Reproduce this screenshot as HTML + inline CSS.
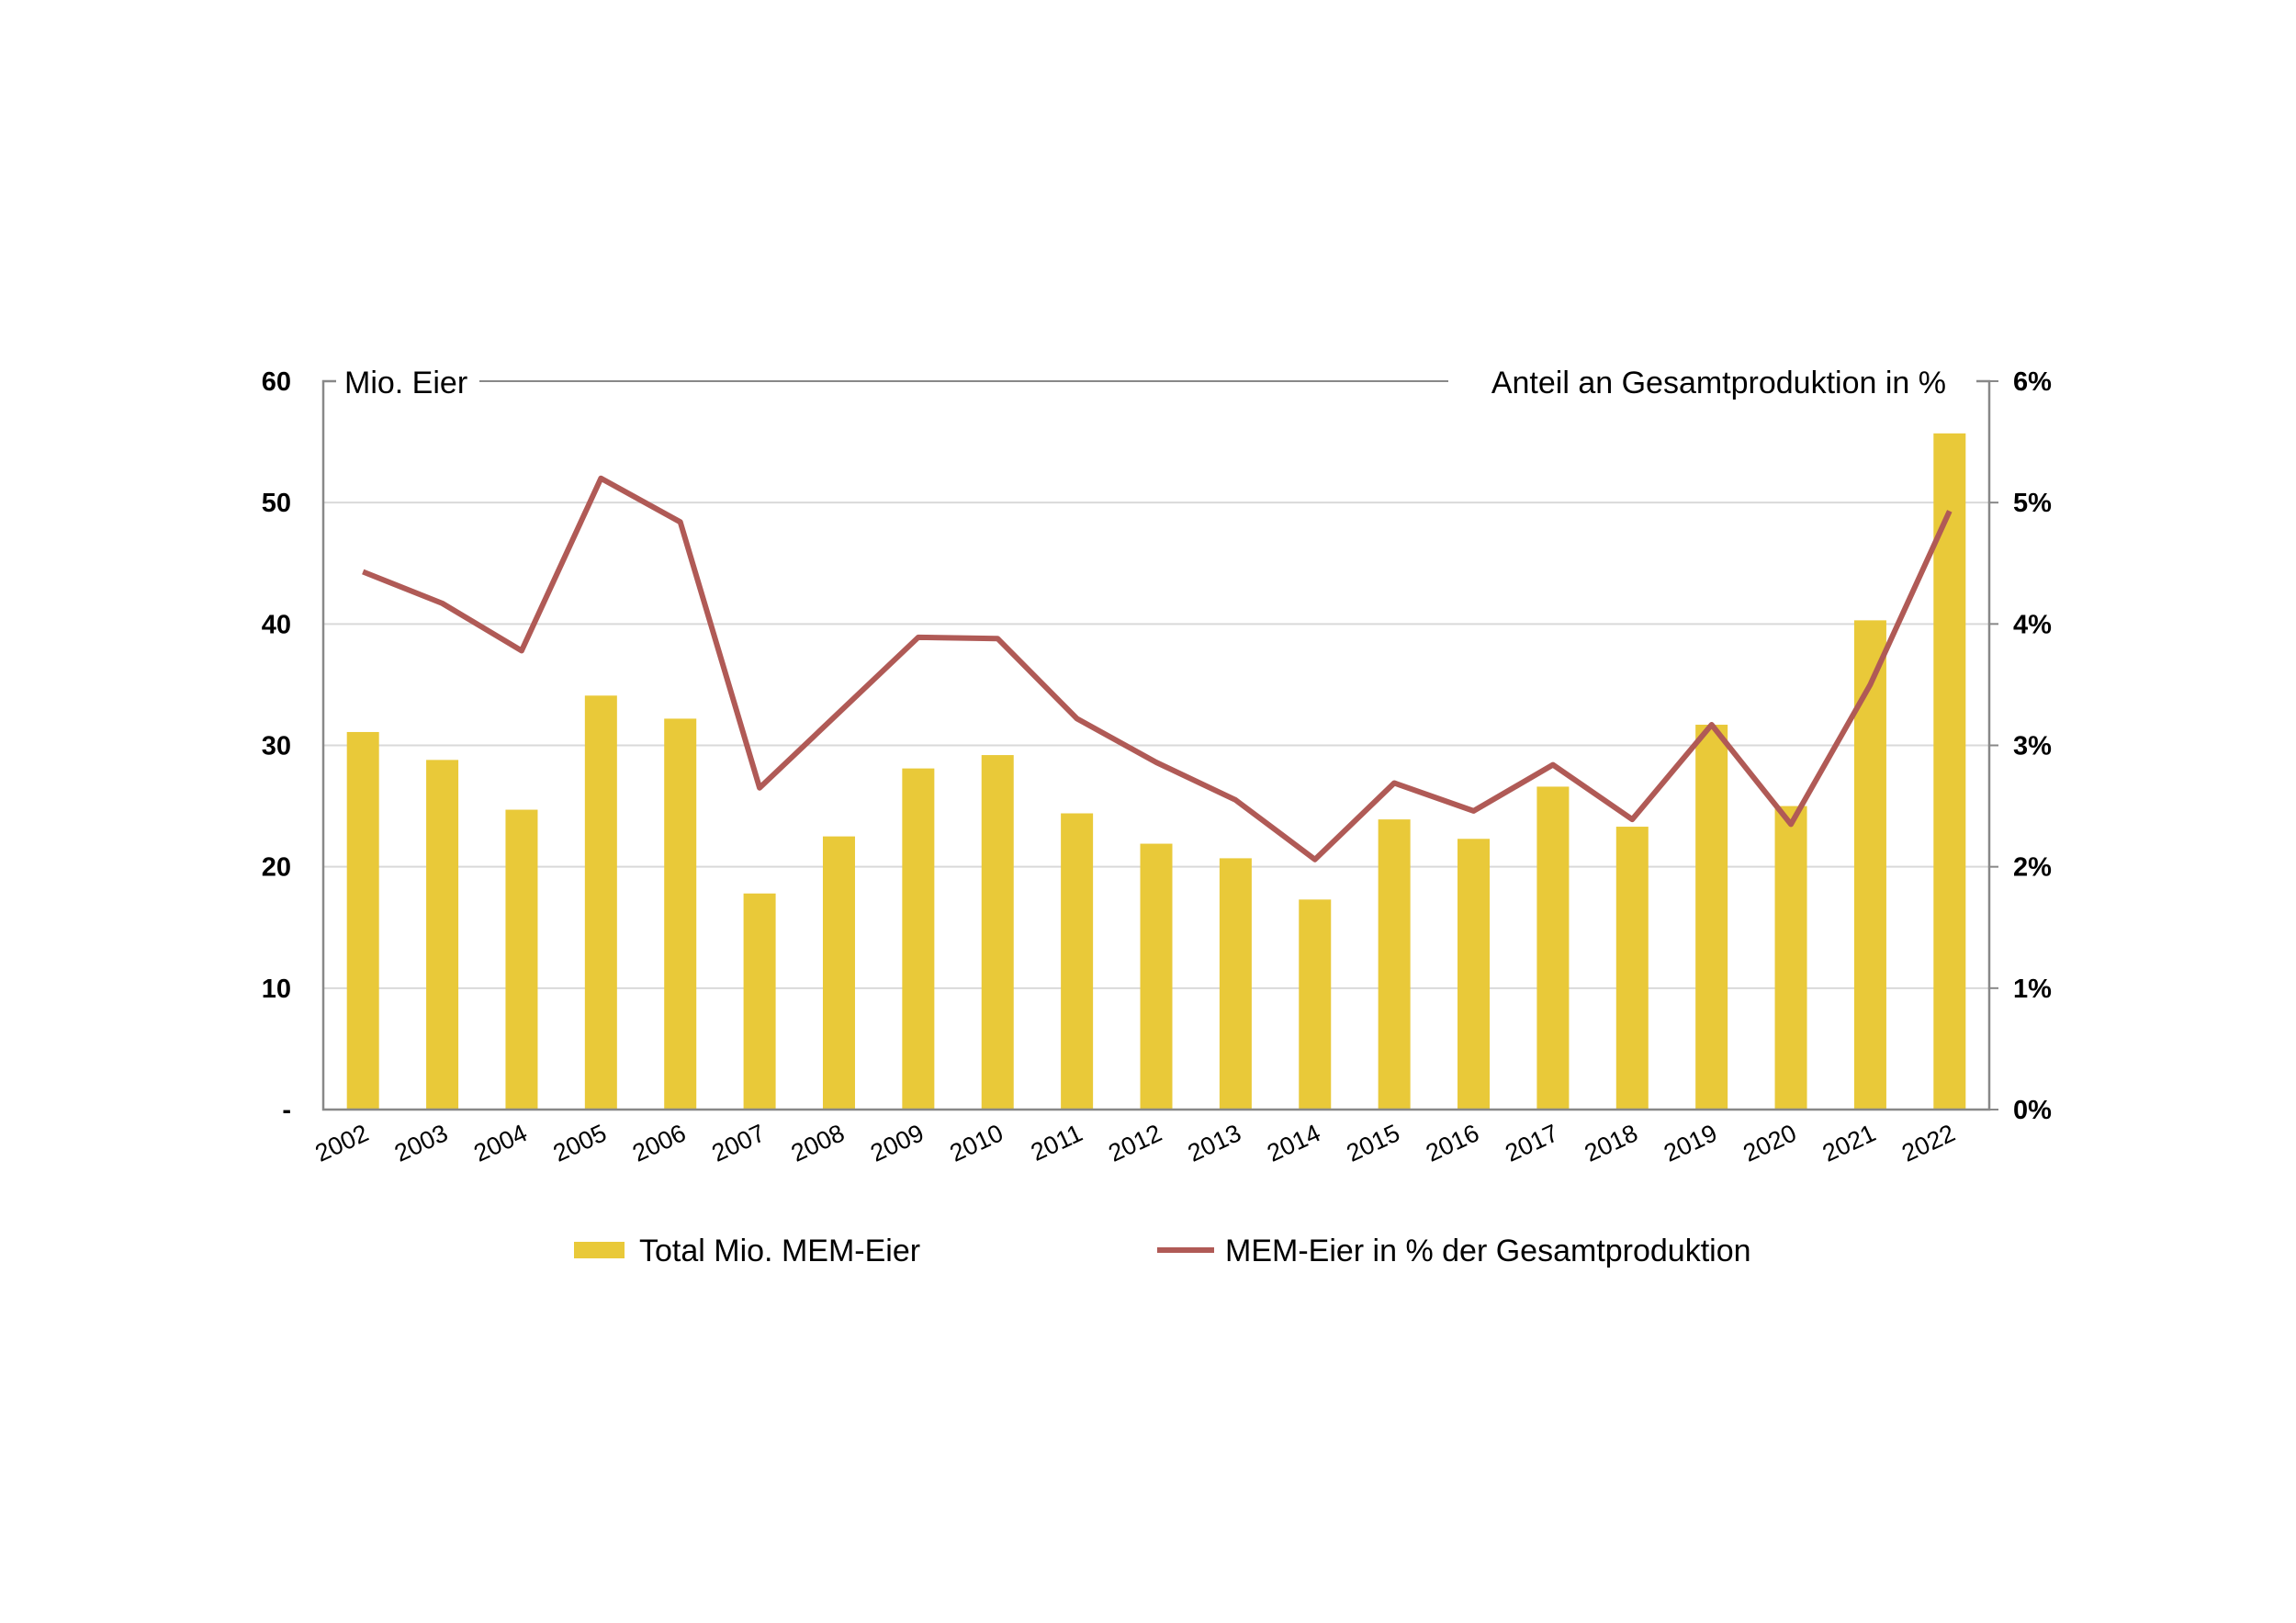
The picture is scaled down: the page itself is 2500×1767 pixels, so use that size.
<!DOCTYPE html>
<html><head><meta charset="utf-8"><style>body{margin:0;background:#fff}svg{display:block}</style></head>
<body>
<svg id="chart" width="2500" height="1767" viewBox="0 0 2500 1767" xmlns="http://www.w3.org/2000/svg" font-family="Liberation Sans, Arial, sans-serif">
<g id="grid"></g>
<g id="bars"></g>
<g id="line"></g>
<g id="axes"></g>
<text x="375" y="428" font-size="34" fill="#000">Mio. Eier</text>
<text x="2119" y="428" font-size="34" fill="#000" text-anchor="end">Anteil an Gesamtproduktion in %</text>
<g>
<rect x="625" y="1352" width="55" height="18" fill="#E9C939"/>
<text x="696" y="1373" font-size="34">Total Mio. MEM-Eier</text>
<line x1="1260" y1="1361" x2="1322" y2="1361" stroke="#B05A56" stroke-width="6"/>
<text x="1334" y="1373" font-size="34">MEM-Eier in % der Gesamtproduktion</text>
</g>
</svg>
<script>
const years = ["2002","2003","2004","2005","2006","2007","2008","2009","2010","2011","2012","2013","2014","2015","2016","2017","2018","2019","2020","2021","2022"];
const eggs = [31.1,28.8,24.7,34.1,32.2,17.8,22.5,28.1,29.2,24.4,21.9,20.7,17.3,23.9,22.3,26.6,23.3,31.7,25.0,40.3,55.7];
const share = [4.43,4.17,3.78,5.2,4.84,2.65,3.27,3.89,3.88,3.22,2.86,2.55,2.06,2.69,2.46,2.84,2.39,3.17,2.35,3.5,4.93];
const leftTicks = ["-","10","20","30","40","50","60"];
const rightTicks = ["0%","1%","2%","3%","4%","5%","6%"];

const NS = "http://www.w3.org/2000/svg";
const L = 352, R = 2166, T = 415, B = 1208;
const band = (R - L) / years.length;
const xC = i => L + band * (i + 0.5);
const yL = v => B - (v / 60) * (B - T);
const yR = v => B - (v / 6) * (B - T);
function mk(tag, attrs, parent) {
  const e = document.createElementNS(NS, tag);
  for (const k in attrs) e.setAttribute(k, attrs[k]);
  parent.appendChild(e);
  return e;
}
const grid = document.getElementById('grid');
const axes = document.getElementById('axes');
for (let i = 1; i < 6; i++) {
  const g = mk('line', {x1: L, x2: R, y1: yL(i * 10), y2: yL(i * 10), stroke: '#d9d9d9', 'stroke-width': 2}, grid);
  
  
}
leftTicks.forEach((t, i) => {
  const e = mk('text', {x: 317, y: yL(i * 10) + 10, 'font-size': 29, 'font-weight': 'bold', 'text-anchor': 'end'}, axes);
  e.textContent = t;
  
  
});
rightTicks.forEach((t, i) => {
  const e = mk('text', {x: 2192, y: yR(i) + 10, 'font-size': 29, 'font-weight': 'bold'}, axes);
  e.textContent = t;
  
  
  const tk = mk('line', {x1: R, x2: R + 10, y1: yR(i), y2: yR(i), stroke: '#888', 'stroke-width': 2}, axes);
  
  
});
const bars = document.getElementById('bars');
eggs.forEach((v, i) => {
  const r = mk('rect', {x: xC(i) - 17.5, y: yL(v), width: 35, height: B - yL(v), fill: '#E9C939'}, bars);
  
  
});
years.forEach((y, i) => {
  const x = xC(i) + 8, yy = 1240;
  const e = mk('text', {x: x, y: yy, 'font-size': 27, 'text-anchor': 'end', transform: `rotate(-25 ${x} ${yy})`}, axes);
  e.textContent = y;
  
  
});
const a1 = mk('path', {d: `M${L+14} ${T} H${L} V${B} H${R} V${T} H${R-14}`, fill: 'none', stroke: '#888', 'stroke-width': 2.5}, axes);


const a2 = mk('line', {x1: 522, x2: 1577, y1: T, y2: T, stroke: '#888', 'stroke-width': 2}, axes);


const pts = share.map((v, i) => `${xC(i)},${yR(v)}`).join(' ');
const pl = mk('polyline', {points: pts, fill: 'none', stroke: '#B05A56', 'stroke-width': 6, 'stroke-linejoin': 'round'}, document.getElementById('line'));


</script>
</body></html>
